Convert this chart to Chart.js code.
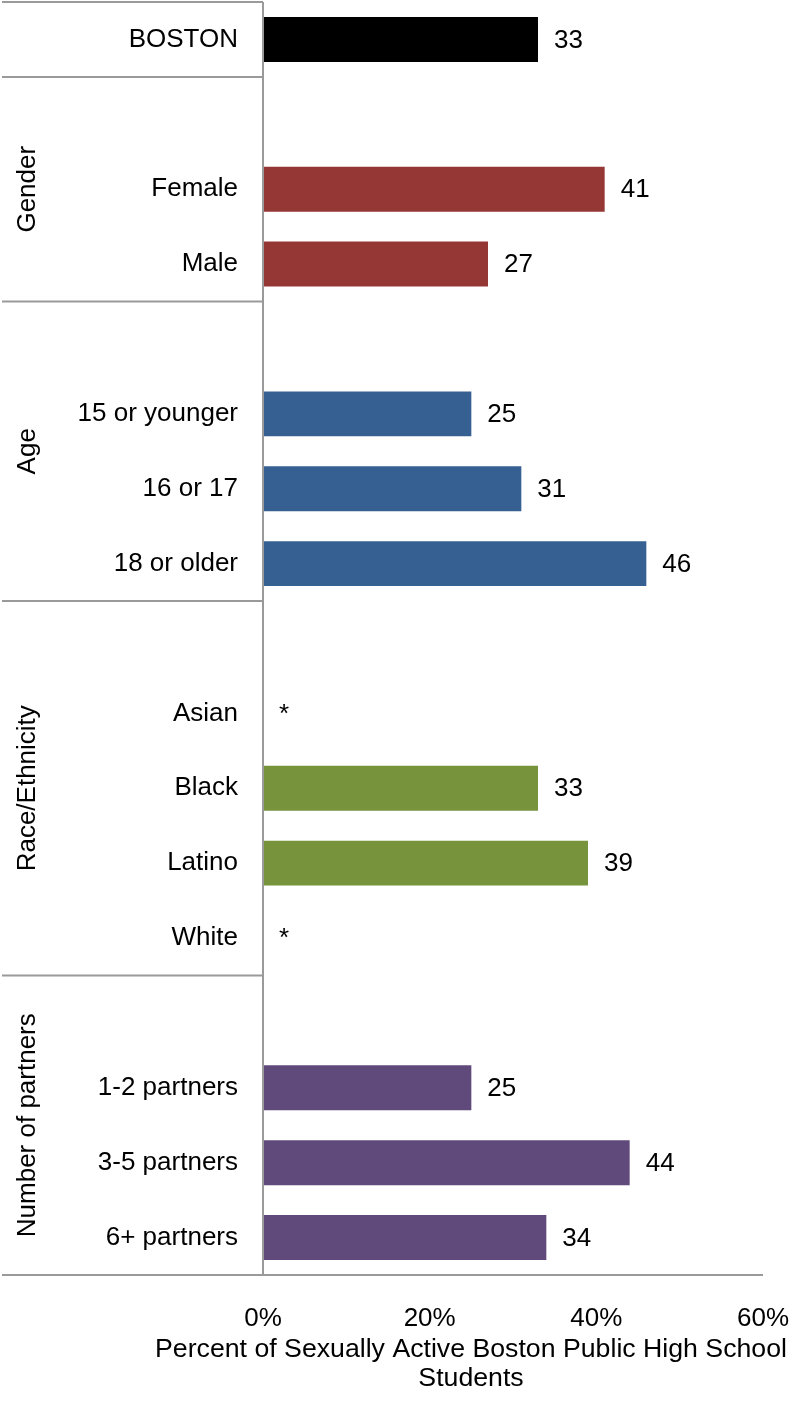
<!DOCTYPE html>
<html>
<head>
<meta charset="utf-8">
<script src="https://cdn.jsdelivr.net/npm/chart.js@4.4.1/dist/chart.umd.min.js"></script>
<style>
  html, body { margin: 0; padding: 0; background: #fff; }
  #wrap { width: 790px; height: 1417px; position: relative; }
</style>
</head>
<body>
<div id="wrap"><canvas id="chart"></canvas></div>
<script>
// Rows of the chart, blank entries are spacer rows under each group heading
const categories = ['BOSTON', '', 'Female', 'Male', '', '15 or younger', '16 or 17', '18 or older',
  '', 'Asian', 'Black', 'Latino', 'White', '', '1-2 partners', '3-5 partners', '6+ partners'];
const values = [33, null, 41, 27, null, 25, 31, 46, null, null, 33, 39, null, null, 25, 44, 34];
// '*' = suppressed estimate
const valueLabels = ['33', '', '41', '27', '', '25', '31', '46', '', '*', '33', '39', '*', '', '25', '44', '34'];
const barColors = ['#000000', null, '#953735', '#953735', null, '#376092', '#376092', '#376092',
  null, '#77933c', '#77933c', '#77933c', '#77933c', null, '#604a7b', '#604a7b', '#604a7b'];
const xTicks = [0, 20, 40, 60];
const groupNames = ['Gender', 'Age', 'Race/Ethnicity', 'Number of partners'];
const groupStart = [1, 4, 8, 13];
const groupEnd = [3, 7, 12, 16];
const axisTitle = ['Percent of Sexually Active Boston Public High School', 'Students'];

const FONT = '"Liberation Sans", Arial, Helvetica, sans-serif';
const LINE = '#9a9a9a';

const decorations = {
  id: 'decorations',
  afterDatasetsDraw(chart) {
    const { ctx, chartArea, scales } = chart;
    const y = scales.y, x = scales.x;
    const half = (y.getPixelForValue(1) - y.getPixelForValue(0)) / 2;
    const rowTop = i => y.getPixelForValue(i) - half;
    const rowBottom = i => y.getPixelForValue(i) + half;

    ctx.save();
    ctx.strokeStyle = LINE;
    ctx.lineWidth = 2;
    // frame lines on the label side
    const hLine = (yy, x2) => { ctx.beginPath(); ctx.moveTo(2, yy); ctx.lineTo(x2, yy); ctx.stroke(); };
    hLine(rowTop(0), chartArea.left);
    hLine(rowBottom(0), chartArea.left);
    groupEnd.forEach((e, i) => {
      if (i < groupEnd.length - 1) hLine(rowBottom(e), chartArea.left);
    });
    hLine(chartArea.bottom, chartArea.right);
    ctx.beginPath();
    ctx.moveTo(chartArea.left, rowTop(0));
    ctx.lineTo(chartArea.left, chartArea.bottom);
    ctx.stroke();

    // value labels
    ctx.fillStyle = '#000';
    ctx.font = '26px ' + FONT;
    ctx.textBaseline = 'middle';
    ctx.textAlign = 'left';
    valueLabels.forEach((t, i) => {
      if (!t) return;
      const v = values[i] == null ? 0 : values[i];
      ctx.fillText(t, x.getPixelForValue(v) + 16, y.getPixelForValue(i) + 1);
    });

    // rotated group names
    ctx.textAlign = 'center';
    groupNames.forEach((g, i) => {
      const cy = (rowTop(groupStart[i]) + rowBottom(groupEnd[i])) / 2;
      ctx.save();
      ctx.translate(28, cy);
      ctx.rotate(-Math.PI / 2);
      ctx.fillText(g, 0, 0);
      ctx.restore();
    });

    // axis title
    ctx.font = '26.7px ' + FONT;
    ctx.fillText(axisTitle[0], 471, 1350);
    ctx.fillText(axisTitle[1], 471, 1379);
    ctx.restore();
  }
};

new Chart(document.getElementById('chart'), {
  type: 'bar',
  data: {
    labels: categories,
    datasets: [{
      data: values,
      backgroundColor: barColors,
      barPercentage: 0.6,
      categoryPercentage: 1.0
    }]
  },
  options: {
    indexAxis: 'y',
    responsive: true,
    maintainAspectRatio: false,
    animation: false,
    layout: { padding: { top: 2, right: 27, left: 0, bottom: 0 } },
    plugins: { legend: { display: false }, tooltip: { enabled: false } },
    scales: {
      x: {
        min: 0,
        max: 60,
        afterBuildTicks: s => { s.ticks = xTicks.map(v => ({ value: v })); },
        afterFit: s => {
          s.height = 1417 - 1275;
          s.paddingLeft = 0;
          s.paddingRight = 0;
        },
        grid: { display: false, drawTicks: false },
        border: { display: false },
        ticks: {
          padding: 28,
          color: '#000',
          font: { family: FONT, size: 26 },
          maxRotation: 0,
          callback: v => v + '%'
        }
      },
      y: {
        afterFit: s => {
          s.width = 263;
          s.paddingTop = 0;
          s.paddingBottom = 0;
        },
        grid: { display: false, drawTicks: false },
        border: { display: false },
        ticks: {
          padding: 25,
          color: '#000',
          font: { family: FONT, size: 26 },
          autoSkip: false
        }
      }
    }
  },
  plugins: [decorations]
});
</script>
</body>
</html>
